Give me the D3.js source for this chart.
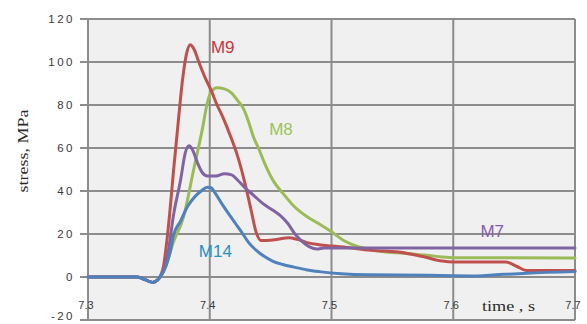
<!DOCTYPE html>
<html><head><meta charset="utf-8">
<script src="https://cdn.jsdelivr.net/npm/d3@7"></script>
<style>html,body{margin:0;padding:0;background:#fff;}svg{display:block;}</style>
</head><body>
<svg id="chart" width="587" height="324"></svg>
<script>
// ---- data ----
const xTicks = [7.3, 7.4, 7.5, 7.6, 7.7];
const xTickLabels = ["7.3", "7.4", "7.5", "7.6", "7.7"];
const yTicks = [-20, 0, 20, 40, 60, 80, 100, 120];
const yTickLabels = ["-20", "0", "20", "40", "60", "80", "100", "120"];

const seriesNames = ["M9", "M8", "M7", "M14"];
const seriesColors = ["#c0504d", "#9bbb59", "#8064a2", "#4f81bd"];
const labelColors = ["#d0303a", "#9bc35a", "#8a5cb0", "#2f8ec4"];

const m9Time   = [7.30, 7.340, 7.345, 7.350, 7.353, 7.357, 7.360, 7.362, 7.365, 7.368, 7.370, 7.3736, 7.3777, 7.381, 7.384, 7.387, 7.391, 7.396, 7.401, 7.406, 7.411, 7.416, 7.420, 7.423, 7.430, 7.434, 7.438, 7.442, 7.447, 7.456, 7.465, 7.472, 7.480, 7.490, 7.500, 7.517, 7.530, 7.555, 7.575, 7.591, 7.600, 7.643, 7.652, 7.660, 7.700];
const m9Stress = [0, 0, -0.8, -2, -2.5, -1.5, 1, 5, 18, 35, 48, 69, 92, 104, 108, 106, 100, 93, 87, 80, 74, 67, 61, 56, 41, 31, 21, 17, 17, 17.6, 18.3, 17.5, 16, 15, 14.4, 13.5, 12.5, 11.6, 9.5, 7.4, 7, 7, 5, 3, 3];

const m8Time   = [7.30, 7.340, 7.345, 7.350, 7.353, 7.357, 7.360, 7.365, 7.370, 7.3785, 7.3868, 7.394, 7.398, 7.401, 7.406, 7.412, 7.418, 7.423, 7.428, 7.432, 7.436, 7.440, 7.445, 7.453, 7.460, 7.469, 7.480, 7.489, 7.500, 7.510, 7.520, 7.530, 7.541, 7.560, 7.580, 7.591, 7.600, 7.700];
const m8Stress = [0, 0, -0.8, -2, -2.5, -1.5, 0.5, 7, 16, 28, 50, 69, 81, 86, 88, 87.5, 85.5, 82, 78, 72, 65, 60, 53, 44, 39, 33, 28, 25, 21, 17, 14.5, 13, 11.8, 11, 10, 9.3, 9, 8.8];

const m7Time   = [7.30, 7.340, 7.345, 7.350, 7.353, 7.357, 7.360, 7.362, 7.366, 7.370, 7.376, 7.380, 7.383, 7.386, 7.390, 7.394, 7.398, 7.405, 7.412, 7.418, 7.423, 7.428, 7.436, 7.444, 7.452, 7.458, 7.464, 7.470, 7.476, 7.482, 7.488, 7.494, 7.500, 7.700];
const m7Stress = [0, 0, -0.8, -2, -2.5, -1.5, 1, 3, 12, 28, 45, 58, 61, 59, 53, 48.5, 47, 47, 48, 47.5, 45, 42, 38, 34, 31, 28.5, 25, 20, 16.5, 14, 13, 13.5, 13.5, 13.5];

const m14Time   = [7.30, 7.340, 7.345, 7.350, 7.353, 7.357, 7.360, 7.364, 7.368, 7.370, 7.376, 7.382, 7.388, 7.393, 7.398, 7.401, 7.405, 7.410, 7.416, 7.421, 7.426, 7.432, 7.438, 7.445, 7.452, 7.460, 7.469, 7.480, 7.490, 7.508, 7.530, 7.580, 7.600, 7.620, 7.635, 7.660, 7.700];
const m14Stress = [0, 0, -0.8, -2, -2.5, -1.5, 0.5, 5, 13, 19, 26, 33, 37.5, 40, 41.8, 41.5, 38.5, 34, 29, 25, 21, 16, 12.5, 9.5, 7.3, 5.8, 4.6, 3.3, 2.5, 1.5, 1, 0.8, 0.6, 0.5, 1, 1.8, 2.5];

const seriesTimes = [m9Time, m8Time, m7Time, m14Time];
const seriesStress = [m9Stress, m8Stress, m7Stress, m14Stress];

// label anchor positions (data coords)
const labelTime = [7.401, 7.4488, 7.6223, 7.391];
const labelStress = [104, 66, 18.6, 9.3];

// ---- layout ----
const svg = d3.select("#chart");
const x = d3.scaleLinear().domain([7.3, 7.7]).range([88, 575]);
const y = d3.scaleLinear().domain([-20, 120]).range([320, 19]);

svg.append("rect")
  .attr("x", x(7.3)).attr("y", y(120))
  .attr("width", x(7.7) - x(7.3)).attr("height", y(-20) - y(120))
  .attr("fill", "#f0f0f0");

const grid = svg.append("g").attr("stroke", "#8c8c8c").attr("stroke-width", 2);
yTicks.forEach(v => {
  grid.append("line").attr("x1", 80).attr("x2", x(7.7)).attr("y1", y(v)).attr("y2", y(v));
});
xTicks.forEach(v => {
  grid.append("line").attr("x1", x(v)).attr("x2", x(v)).attr("y1", y(120)).attr("y2", y(-20));
});

// y tick labels
svg.append("g").selectAll("text").data(yTicks).join("text")
  .attr("x", 75).attr("y", d => Math.min(y(d), 316)).attr("dy", "0.35em")
  .attr("text-anchor", "end")
  .attr("font-family", "Liberation Sans, Arial, sans-serif")
  .attr("font-size", 11.5).attr("letter-spacing", 2.5)
  .attr("fill", "#3a3a3a")
  .text((d, i) => yTickLabels[i]);

// x tick labels
svg.append("g").selectAll("text").data(xTicks).join("text")
  .attr("x", d => x(d) - 2).attr("y", 309)
  .attr("text-anchor", "middle")
  .attr("font-family", "Liberation Sans, Arial, sans-serif")
  .attr("font-size", 11).attr("fill", "#3a3a3a")
  .text((d, i) => xTickLabels[i]);

// axis titles
svg.append("text")
  .attr("x", 482).attr("y", 311)
  .attr("font-family", "Liberation Serif, Times New Roman, serif")
  .attr("font-size", 15).attr("fill", "#2a2a2a")
  .attr("textLength", 53).attr("lengthAdjust", "spacingAndGlyphs")
  .text("time , s");

svg.append("text")
  .attr("transform", "translate(28,151) rotate(-90)")
  .attr("text-anchor", "middle")
  .attr("font-family", "Liberation Serif, Times New Roman, serif")
  .attr("font-size", 14).attr("fill", "#2a2a2a")
  .attr("textLength", 83).attr("lengthAdjust", "spacingAndGlyphs")
  .text("stress, MPa");

// lines
const line = d3.line().x(d => x(d[0])).y(d => y(d[1])).curve(d3.curveMonotoneX);
const order = [1, 0, 2, 3];
order.forEach(i => {
  const pts = seriesTimes[i].map((t, k) => [t, seriesStress[i][k]]);
  svg.append("path").datum(pts)
    .attr("d", line).attr("fill", "none")
    .attr("stroke", seriesColors[i]).attr("stroke-width", 3)
    .attr("stroke-linejoin", "round").attr("stroke-linecap", "round");
});

// series labels
seriesNames.forEach((n, i) => {
  svg.append("text")
    .attr("x", x(labelTime[i])).attr("y", y(labelStress[i]))
    .attr("font-family", "Liberation Sans, Arial, sans-serif")
    .attr("font-size", 17).attr("fill", labelColors[i])
    .text(n);
});
</script>
</body></html>
